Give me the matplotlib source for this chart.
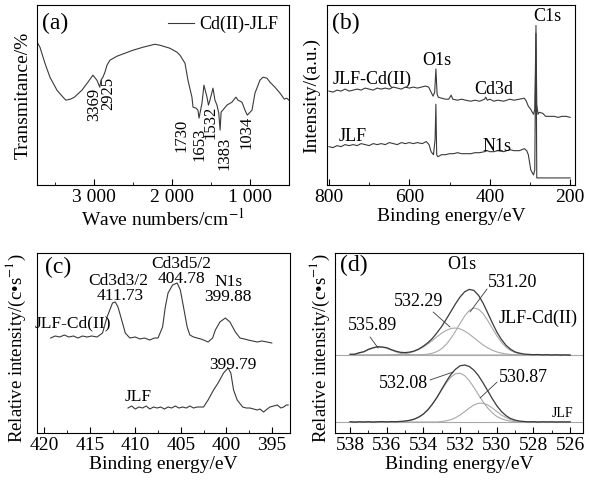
import matplotlib
matplotlib.use('Agg')
import matplotlib.pyplot as plt
from matplotlib.ticker import MultipleLocator, FuncFormatter

plt.rcParams['font.family'] = 'Liberation Serif'
plt.rcParams['mathtext.fontset'] = 'stix'

# (a) FT-IR of Cd(II)-JLF
ir_wn = [3727, 3692, 3628, 3564, 3474, 3397, 3360, 3300, 3250, 3154, 3077, 3013,
         2962, 2925, 2910, 2885, 2859, 2833, 2795, 2705, 2500, 2372, 2218, 2154,
         2026, 1936, 1897, 1833, 1795, 1744, 1730, 1692, 1667, 1653, 1615, 1590,
         1551, 1532, 1513, 1474, 1449, 1423, 1400, 1383, 1370, 1295, 1231, 1180,
         1154, 1103, 1064, 1034, 974, 936, 872, 833, 782, 744, 680, 615, 560, 530, 500]
ir_t = [143, 138, 122, 108, 95, 88, 85, 86, 88, 95, 103, 110,
        105, 98, 105, 108, 113, 120, 125, 129, 135, 138, 141, 140,
        137, 133, 130, 122, 105, 88, 78, 77, 75, 67, 82, 100,
        88, 80, 85, 97, 85, 80, 72, 55, 73, 80, 83, 88,
        85, 83, 75, 70, 75, 92, 105, 108, 107, 103, 98, 92, 86, 87, 85]
ir_marks = ['3369', '2925', '1730', '1653', '1532', '1383', '1034']

# (b) XPS survey
sv_be_cd = [800, 790, 780, 770, 760, 750, 740, 730, 720, 710, 700, 690, 680, 670, 660,
            650, 640, 630, 620, 610, 600, 590, 580, 570, 560, 552, 546, 541, 537, 534,
            531, 528, 520, 510, 502, 496, 492, 480, 470, 460, 447, 437, 425, 413, 410,
            406, 400, 390, 380, 365, 350, 340, 326, 314, 309, 304, 298, 294, 291, 288,
            285, 283, 280, 277, 268, 261, 250, 240, 230, 220, 210, 200]
sv_cd = [93, 92, 94, 93, 95, 93, 94, 95, 94, 96, 95, 94, 96, 95, 96,
         95, 97, 96, 95, 97, 96, 97, 96, 97, 98, 97, 92, 88, 92, 115,
         90, 87, 86, 85, 85, 89, 85, 84, 85, 84, 83, 84, 83, 85, 87,
         84, 85, 83, 84, 83, 85, 84, 85, 86, 83, 78, 75, 72, 70, 75,
         150, 80, 70, 72, 71, 68, 68, 68, 67, 68, 68, 67]
sv_be_jlf = [800, 790, 780, 770, 760, 750, 740, 730, 720, 710, 700, 690, 680, 670, 660,
             650, 640, 630, 620, 610, 600, 590, 580, 568, 558, 551, 546, 540, 536, 534,
             532, 529, 520, 510, 500, 490, 480, 470, 460, 447, 437, 425, 413, 406, 400,
             390, 380, 365, 350, 340, 326, 314, 308, 304, 298, 294, 291, 288, 285, 283,
             280, 270, 260, 250, 240, 230, 220, 210, 200]
sv_jlf = [38, 37, 39, 38, 40, 39, 40, 39, 41, 40, 39, 41, 40, 41, 40,
          42, 41, 40, 42, 41, 42, 41, 42, 41, 43, 40, 33, 30, 45, 80,
          30, 28, 30, 30, 31, 31, 32, 31, 31, 31, 32, 32, 33, 34, 33,
          33, 34, 33, 35, 34, 34, 36, 34, 30, 15, 12, 10, 15, 158, 7,
          7, 7, 7, 7, 7, 7, 7, 7, 7]

# (c) Cd3d / N1s region
cd_be = [419.3, 418.8, 418.3, 417.8, 417.3, 416.8, 416.3, 415.8, 415.3, 414.8, 414.2,
         413.6, 413.1, 412.5, 412.2, 411.9, 411.4, 411.1, 410.6, 410.0, 409.5, 409.0,
         408.4, 407.9, 407.5, 407.0, 406.7, 406.4, 405.9, 405.4, 405.05, 404.7, 404.3,
         404.0, 403.6, 403.2, 402.8, 402.5, 402.0, 401.5, 401.2, 400.7, 400.1, 399.6,
         399.0, 398.5, 398.0, 397.6, 397.1, 396.6, 396.1, 395.5, 395.0]
cd_int = [95, 97, 96, 98, 96, 97, 95, 97, 96, 97, 96,
          100, 116, 130, 131, 126, 110, 100, 95, 96, 94, 95,
          93, 95, 95, 106, 126, 140, 148, 150, 143, 126, 106,
          98, 96, 95, 94, 93, 91, 95, 103, 111, 115, 111,
          101, 95, 94, 93, 92, 91, 92, 91, 90]
n_be = [410.8, 410.4, 410.0, 409.6, 409.2, 408.8, 408.4, 408.0, 407.6, 407.2, 406.8,
        406.4, 406.0, 405.6, 405.2, 404.8, 404.4, 404.0, 403.6, 403.2, 402.8, 402.5,
        402.0, 401.4, 400.9, 400.3, 399.8, 399.5, 399.2, 398.8, 398.2, 397.8, 397.4,
        397.0, 396.6, 396.3, 395.9, 395.5, 395.2, 394.8, 394.4, 394.0, 393.7, 393.4, 393.2]
n_int = [25, 27, 24, 26, 25, 27, 24, 26, 25, 26, 24,
         26, 25, 27, 25, 26, 25, 27, 25, 26, 26, 26,
         33, 43, 50, 60, 65, 60, 43, 33, 26, 25, 25,
         24, 23, 24, 21, 24, 26, 27, 28, 25, 26, 28, 28]

# (d) O1s high resolution, heights above each baseline
o1s_be = [538.0, 537.75, 537.5, 537.25, 537.0, 536.75, 536.5, 536.25, 536.0, 535.75,
          535.5, 535.25, 535.0, 534.75, 534.5, 534.25, 534.0, 533.75, 533.5, 533.25,
          533.0, 532.75, 532.5, 532.25, 532.0, 531.75, 531.5, 531.25, 531.0, 530.75,
          530.5, 530.25, 530.0, 529.75, 529.5, 529.25, 529.0, 528.75, 528.5, 528.25,
          528.0, 527.75, 527.5, 527.25, 527.0, 526.75, 526.5, 526.25, 526.0]
o1s_cd = [0.8, 0.7, 2.3, 3.2, 5.7, 7.2, 8.3, 8.0, 7.3, 5.4,
          3.8, 2.7, 2.4, 2.9, 4.0, 6.0, 8.9, 12.4, 16.8, 22.5,
          28.6, 35.9, 43.5, 51.2, 58.1, 63.2, 65.6, 64.6, 59.8, 52.0,
          42.3, 32.4, 23.1, 15.6, 9.8, 5.8, 3.1, 1.8, 0.9, 0.6,
          0.3, 0.5, 0.1, 0.3, 0.0, 0.2, -0.1, 0.1, -0.2]
o1s_cd_531 = [0, 0, 0, 0, 0, 0, 0, 0, 0, 0,
              0, 0, 0, 0, 0.1, 0.2, 0.4, 0.9, 1.8, 3.5,
              6.4, 10.7, 16.6, 23.8, 31.7, 39.0, 44.5, 47.0, 45.9, 41.5,
              34.7, 26.9, 19.3, 12.8, 7.9, 4.5, 2.4, 1.2, 0.5, 0.2,
              0.1, 0, 0, 0, 0, 0, 0, 0, 0]
o1s_cd_532 = [0, 0, 0, 0, 0, 0, 0, 0, 0.1, 0.2,
              0.4, 0.7, 1.3, 2.2, 3.6, 5.5, 8.1, 11.2, 14.7, 18.4,
              21.9, 24.7, 26.5, 27.0, 26.1, 23.9, 20.9, 17.3, 13.6, 10.1,
              7.2, 4.8, 3.1, 1.9, 1.1, 0.6, 0.3, 0.2, 0.1, 0,
              0, 0, 0, 0, 0, 0, 0, 0, 0]
o1s_cd_536 = [0.4, 0.9, 1.9, 3.3, 5.2, 6.9, 7.9, 7.8, 6.7, 4.9,
              3.1, 1.7, 0.8, 0.3, 0.1, 0, 0, 0, 0, 0,
              0, 0, 0, 0, 0, 0, 0, 0, 0, 0,
              0, 0, 0, 0, 0, 0, 0, 0, 0, 0,
              0, 0, 0, 0, 0, 0, 0, 0, 0]
o1s_jlf = [0.3, -0.2, 0.2, 0.0, 0.3, -0.1, 0.2, 0.4, 0.1, 0.4,
           0.3, 0.6, 1.0, 1.7, 2.9, 5.0, 8.0, 12.4, 18.2, 25.0,
           32.8, 40.6, 47.5, 52.8, 56.2, 57.0, 55.5, 51.9, 46.4, 39.2,
           31.4, 23.5, 16.3, 10.6, 6.4, 3.5, 1.9, 0.9, 0.5, 0.1,
           0.3, -0.1, 0.2, 0.0, 0.2, -0.1, 0.1, 0.0, 0.1]
o1s_jlf_532 = [0, 0, 0, 0, 0, 0, 0, 0, 0, 0,
               0, 0, 0.7, 1.4, 2.6, 4.7, 7.8, 12.2, 17.9, 24.7,
               32.1, 39.2, 44.9, 48.3, 48.7, 46.4, 41.4, 34.7, 27.4, 20.2,
               14.1, 9.2, 5.6, 3.3, 1.8, 0.9, 0.4, 0.2, 0.1, 0,
               0, 0, 0, 0, 0, 0, 0, 0, 0]
o1s_jlf_531 = [0, 0, 0, 0, 0, 0, 0, 0, 0, 0,
               0, 0, 0, 0, 0, 0, 0, 0, 0, 0,
               0.5, 1.2, 2.4, 4.3, 7.0, 10.4, 13.9, 17.0, 18.8, 18.8,
               17.1, 14.1, 10.5, 7.1, 4.4, 2.4, 1.2, 0.6, 0.2, 0,
               0, 0, 0, 0, 0, 0, 0, 0, 0]

dark = '#3a3a3a'
light = '#a8a8a8'
fs = 14
ann = 12.5


def style_axis(ax, major, minor):
    ax.xaxis.set_major_locator(MultipleLocator(major))
    ax.xaxis.set_minor_locator(MultipleLocator(minor))
    ax.tick_params(axis='x', which='both', direction='in', top=False, labelsize=fs, pad=3)
    ax.tick_params(axis='x', which='major', length=4)
    ax.tick_params(axis='x', which='minor', length=2)
    ax.set_yticks([])


fig = plt.figure(figsize=(5.9, 4.83), dpi=100)

# ---- (a)
ax = fig.add_axes([0.0627, 0.617, 0.4271, 0.372])
ax.plot(ir_wn, ir_t, color=dark, lw=0.8, label='Cd(II)-JLF')
ax.set_xlim(3730, 500)
ax.set_ylim(0, 180)
style_axis(ax, 1000, 500)
ax.xaxis.set_major_formatter(FuncFormatter(lambda v, p: f'{int(v):,}'.replace(',', ' ')))
ax.set_xlabel('Wave numbers/cm$^{-1}$', fontsize=fs, labelpad=1)
ax.set_ylabel('Transmitance/%', fontsize=fs)
ax.yaxis.set_label_coords(-0.02, 0.5)
ax.legend(loc='upper right', frameon=False, fontsize=13, handlelength=1.4,
          handletextpad=0.3, borderaxespad=0.2)
ax.text(0.02, 0.9, '(a)', transform=ax.transAxes, fontsize=17, va='center')
ir_pos = [(3000, 81), (2821, 92), (1875, 50), (1650, 41), (1505, 63), (1321, 32), (1039, 53)]
for lab, (x, y) in zip(ir_marks, ir_pos):
    ax.text(x, y, lab, rotation=90, ha='center', va='center', fontsize=12)

# ---- (b)
ax = fig.add_axes([0.5542, 0.617, 0.4203, 0.372])
ax.plot(sv_be_cd, sv_cd, color=dark, lw=0.8)
ax.plot(sv_be_jlf, sv_jlf, color=dark, lw=0.8)
ax.set_xlim(805, 188)
ax.set_ylim(0, 178)
style_axis(ax, 200, 100)
ax.set_xlabel('Binding energy/eV', fontsize=fs, labelpad=1)
ax.set_ylabel('Intensity/(a.u.)', fontsize=fs)
ax.yaxis.set_label_coords(-0.028, 0.5)
ax.text(0.02, 0.9, '(b)', transform=ax.transAxes, fontsize=17, va='center')
for lab, x, y in [('C1s', 257, 167), ('O1s', 531, 123), ('JLF-Cd(II)', 693, 105),
                  ('Cd3d', 389, 95), ('JLF', 740, 48), ('N1s', 382, 38)]:
    ax.text(x, y, lab, ha='center', va='center', fontsize=13)

# ---- (c)
ax = fig.add_axes([0.0627, 0.1035, 0.4288, 0.3727])
ax.plot(cd_be, cd_int, color=dark, lw=0.8)
ax.plot(n_be, n_int, color=dark, lw=0.8)
ax.set_xlim(420.8, 393)
ax.set_ylim(0, 180)
style_axis(ax, 5, 2.5)
ax.set_xlabel('Binding energy/eV', fontsize=fs, labelpad=1)
ax.set_ylabel('Relative intensity/(c\u2022s$^{-1}$)', fontsize=13.5)
ax.yaxis.set_label_coords(-0.036, 0.47)
ax.text(0.03, 0.917, '(c)', transform=ax.transAxes, fontsize=17, va='center')
for lab, x, y in [('Cd3d3/2', 411.87, 152), ('411.73', 411.65, 137),
                  ('Cd3d5/2', 404.95, 169), ('404.78', 404.95, 154),
                  ('N1s', 399.78, 151), ('399.88', 399.78, 136),
                  ('JLF-Cd(II)', 416.87, 110), ('JLF', 409.67, 36), ('399.79', 399.23, 68)]:
    ax.text(x, y, lab, ha='center', va='center', fontsize=ann)

# ---- (d)
ax = fig.add_axes([0.5678, 0.1035, 0.4203, 0.3727])
off_cd, off_jlf = 78, 11
for comp in (o1s_cd_531, o1s_cd_532, o1s_cd_536):
    ax.plot(o1s_be, [v + off_cd for v in comp], color=light, lw=0.8)
for comp in (o1s_jlf_532, o1s_jlf_531):
    ax.plot(o1s_be, [v + off_jlf for v in comp], color=light, lw=0.8)
ax.axhline(off_cd, color=light, lw=0.8)
ax.axhline(off_jlf, color=light, lw=0.8)
ax.plot(o1s_be, [v + off_cd for v in o1s_cd], color=dark, lw=0.9)
ax.plot(o1s_be, [v + off_jlf for v in o1s_jlf], color=dark, lw=0.9)
ax.set_xlim(538.82, 525.3)
ax.set_ylim(0, 180)
style_axis(ax, 2, 1)
ax.set_xlabel('Binding energy/eV', fontsize=fs, labelpad=1)
ax.set_ylabel('Relative intensity/(c\u2022s$^{-1}$)', fontsize=13.5)
ax.yaxis.set_label_coords(-0.014, 0.47)
ax.text(0.02, 0.933, '(d)', transform=ax.transAxes, fontsize=17, va='center')
for lab, x, y, size in [('O1s', 531.89, 168, 13), ('531.20', 529.16, 150, 13),
                        ('532.29', 534.29, 131, 13), ('JLF-Cd(II)', 527.75, 115, 13),
                        ('535.89', 536.8, 108, 13), ('532.08', 535.11, 50, 13),
                        ('530.87', 528.56, 56, 13), ('JLF', 526.44, 20, 10)]:
    ax.text(x, y, lab, ha='center', va='center', fontsize=size)
for (x0, y0), (x1, y1) in [((530.53, 144), (531.46, 121)), ((533.47, 121), (532.55, 106)),
                           ((536.91, 96), (536.47, 85)), ((533.64, 53), (532.38, 61)),
                           ((529.98, 51), (530.91, 35))]:
    ax.annotate('', xy=(x1, y1), xytext=(x0, y0),
                arrowprops=dict(arrowstyle='-', color=dark, lw=0.6, shrinkA=0, shrinkB=0))

fig.savefig('out.png', dpi=100)
